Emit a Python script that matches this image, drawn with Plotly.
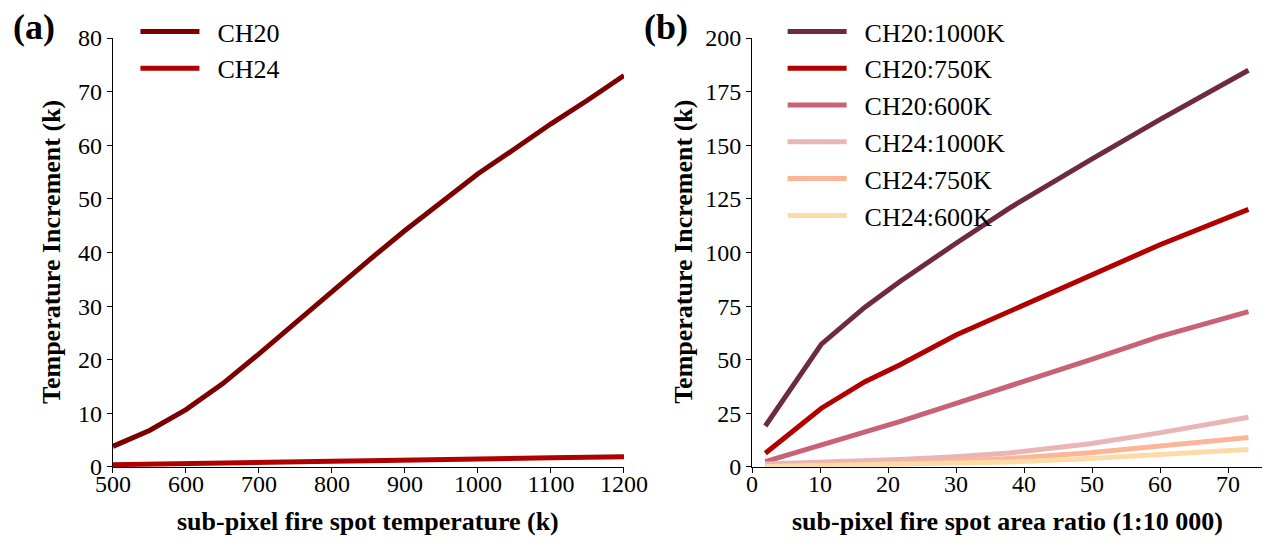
import plotly.graph_objects as go

# (a) temperature increment vs sub-pixel fire spot temperature
temp_k = [500, 550, 600, 650, 700, 750, 800, 850, 900, 950, 1000, 1050, 1100, 1150, 1200]
ch20_inc = [3.85, 6.8, 10.7, 15.5, 21.1, 27.0, 32.9, 38.5, 44.1, 49.4, 54.7, 59.3, 64.0, 68.4, 73.0]
ch24_inc = [0.43, 0.5, 0.6, 0.7, 0.87, 0.95, 1.05, 1.15, 1.3, 1.4, 1.5, 1.6, 1.7, 1.8, 1.9]

# (b) temperature increment vs sub-pixel fire spot area ratio
area_ratio = [1.95, 10.2, 16.6, 21.7, 30.0, 37.8, 49.7, 59.9, 73.0]
ch20_1000 = [19.1, 57.3, 74.5, 86.4, 104.3, 120.6, 143.1, 161.8, 185.0]
ch20_750 = [6.4, 27.4, 39.8, 47.6, 61.5, 72.4, 89.5, 103.5, 120.1]
ch20_600 = [2.5, 10.3, 16.0, 21.1, 29.7, 37.6, 49.9, 60.8, 72.4]
ch24_1000 = [1.4, 2.2, 2.9, 3.5, 4.8, 6.5, 10.8, 15.9, 23.2]
ch24_750 = [0.5, 1.0, 1.4, 1.9, 2.8, 4.0, 6.6, 9.6, 13.7]
ch24_600 = [0.2, 0.6, 0.9, 1.2, 1.7, 2.3, 3.9, 5.7, 8.2]

series_b = [
    ("CH20:1000K", ch20_1000, "#6e2a40"),
    ("CH20:750K", ch20_750, "#b20000"),
    ("CH20:600K", ch20_600, "#c96274"),
    ("CH24:1000K", ch24_1000, "#e9b5b5"),
    ("CH24:750K", ch24_750, "#fbb698"),
    ("CH24:600K", ch24_600, "#fddba8"),
]

FONT = "Liberation Serif"
GAP = "\u00a0\u00a0"  # extra room between legend line and its label

fig = go.Figure()

fig.add_trace(go.Scatter(x=temp_k, y=ch20_inc, mode="lines", name=GAP + "CH20",
                         line=dict(color="#7d0000", width=5),
                         xaxis="x", yaxis="y", legend="legend"))
fig.add_trace(go.Scatter(x=temp_k, y=ch24_inc, mode="lines", name=GAP + "CH24",
                         line=dict(color="#b00000", width=5),
                         xaxis="x", yaxis="y", legend="legend"))

for name, vals, color in series_b:
    fig.add_trace(go.Scatter(x=area_ratio, y=vals, mode="lines", name=GAP + name,
                             line=dict(color=color, width=5),
                             xaxis="x2", yaxis="y2", legend="legend2"))

axis_common = dict(
    showline=True, linecolor="black", linewidth=1.2,
    ticks="outside", ticklen=5, tickwidth=1, tickcolor="black",
    showgrid=False, zeroline=False, automargin=False,
    tickfont=dict(family=FONT, size=24, color="black"),
)
xaxis_extra = dict(ticklabelstandoff=-10)

# page body adds 8px, so the figure is drawn 8px smaller and coordinates shifted
# legends stay inside y<=1, otherwise plotly pushes the top margin
fig.update_layout(
    template="none",
    width=1268, height=541,
    margin=dict(l=0, r=0, t=0, b=0),
    plot_bgcolor="white", paper_bgcolor="white",
    font=dict(family=FONT, size=26, color="black"),
    xaxis=dict(domain=[0.0828, 0.4858], range=[500, 1200], dtick=100, anchor="y",
               **axis_common, **xaxis_extra),
    yaxis=dict(domain=[0.1516, 0.9445], range=[0, 80], dtick=10, anchor="x", **axis_common),
    xaxis2=dict(domain=[0.5868, 0.9890], range=[0, 75], dtick=10, anchor="y2",
                **axis_common, **xaxis_extra),
    yaxis2=dict(domain=[0.1516, 0.9445], range=[0, 200], dtick=25, anchor="x2", **axis_common),
    legend=dict(x=0.1005, y=1.0, xanchor="left", yanchor="top", itemwidth=59,
                bgcolor="rgba(0,0,0,0)", font=dict(family=FONT, size=26)),
    legend2=dict(x=0.6109, y=1.0, xanchor="left", yanchor="top", itemwidth=59,
                 bgcolor="rgba(0,0,0,0)", font=dict(family=FONT, size=26)),
    showlegend=True,
)

bold = dict(family=FONT, size=26, color="black")
annotations = [
    dict(text="<b>Temperature Increment (k)</b>", x=0.0347, y=0.549, textangle=-90),
    dict(text="<b>Temperature Increment (k)</b>", x=0.533, y=0.549, textangle=-90),
    dict(text="<b>sub-pixel fire spot temperature (k)</b>", x=0.2843, y=0.050),
    dict(text="<b>sub-pixel fire spot area ratio (1:10 000)</b>", x=0.7879, y=0.050),
]
for a in annotations:
    fig.add_annotation(xref="paper", yref="paper", showarrow=False,
                       xanchor="center", yanchor="middle", font=bold, **a)

for label, xpos in [("(a)", 0.0205), ("(b)", 0.519)]:
    fig.add_annotation(text=f"<b>{label}</b>", xref="paper", yref="paper",
                       x=xpos, y=0.964, showarrow=False,
                       xanchor="center", yanchor="middle",
                       font=dict(family=FONT, size=36, color="black"))

fig.write_html("out.html")
